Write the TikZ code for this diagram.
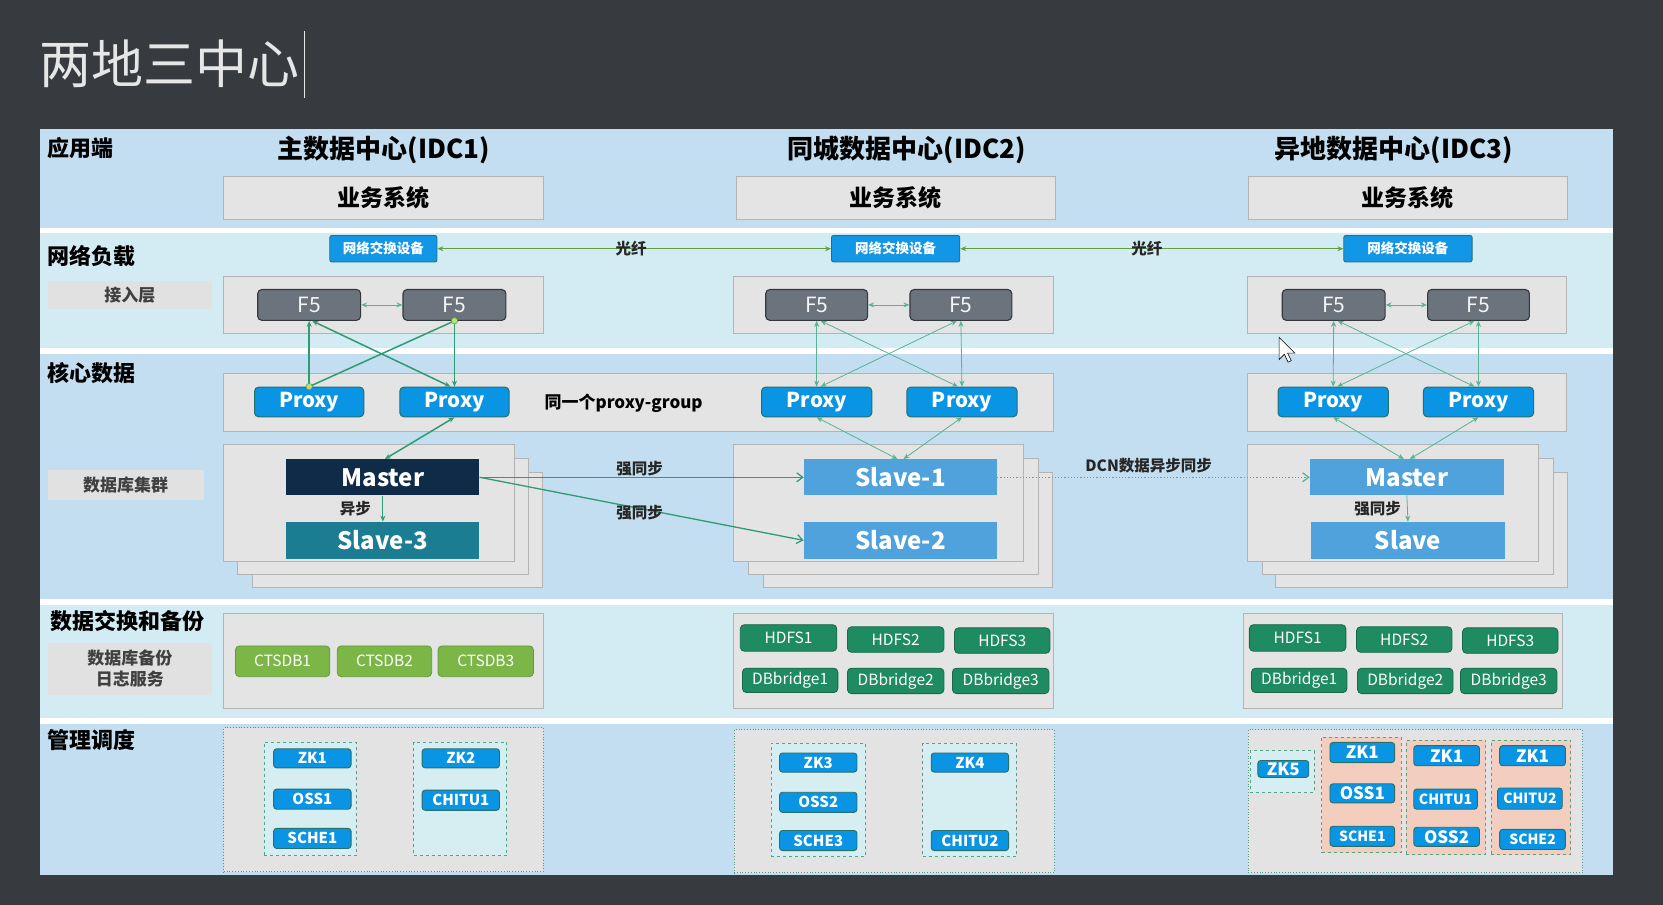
\documentclass[tikz,border=0pt]{standalone}
\usepackage{fontspec}
\setmainfont{Noto Sans CJK SC}
\usetikzlibrary{arrows.meta}
\definecolor{bgdark}{HTML}{373A3F}
\definecolor{bandA}{HTML}{C2DEF0}
\definecolor{bandB}{HTML}{D3EBF2}
\definecolor{boxfill}{HTML}{E4E4E4}
\definecolor{boxline}{HTML}{B4B4B4}
\definecolor{lblfill}{HTML}{E1E1E1}
\definecolor{lbltext}{HTML}{404040}
\definecolor{swblue}{HTML}{1296E6}
\definecolor{btnline}{HTML}{2A6F6A}
\definecolor{pxblue}{HTML}{0A94E4}
\definecolor{f5fill}{HTML}{6B747C}
\definecolor{f5line}{HTML}{33383D}
\definecolor{navy}{HTML}{0F2B48}
\definecolor{tealdb}{HTML}{1C7C91}
\definecolor{lblue}{HTML}{4FA2DB}
\definecolor{ctgreen}{HTML}{7BB646}
\definecolor{ctline}{HTML}{5E9C3A}
\definecolor{hdgreen}{HTML}{1F8B63}
\definecolor{hdline}{HTML}{17694A}
\definecolor{fibercol}{HTML}{62A044}
\definecolor{arrthick}{HTML}{2E9C72}
\definecolor{arrthin}{HTML}{58B392}
\definecolor{innerfill}{HTML}{D6EDF1}
\definecolor{dashcol}{HTML}{4DA58A}
\definecolor{salmon}{HTML}{F3CEBE}
\definecolor{mgfill}{HTML}{E3E3E3}
\definecolor{titlecol}{HTML}{E6E6E6}
\definecolor{dotfill}{HTML}{B8E07A}
\newcommand\fs[1]{\fontsize{#1}{#1}\selectfont}
\newcommand\bx[7]{\node[#1, minimum width={(#5-#3)*1.0606pt}, minimum height={(#6-#4)*1.0606pt}] (#2) at ({(#3+#5)/2},{(#4+#6)/2}) {#7};}
\tikzset{
  Tp/.tip={Stealth[length=6pt,width=5pt]},
  Bb/.tip={Straight Barb[length=6pt,width=9pt,line width=1.2pt]},
  graybox/.style={draw=boxline, fill=boxfill, line width=0.9pt, inner sep=0pt},
  lblbox/.style={fill=lblfill, inner sep=0pt, text=lbltext, font=\fs{17}\bfseries},
  hdr/.style={font=\fs{26}\bfseries, inner sep=0pt},
  sect/.style={font=\fs{22}\bfseries, anchor=west, inner sep=0pt},
  swbox/.style={draw=btnline, fill=swblue, rounded corners=2pt, text=white, font=\fs{13.5}\bfseries, inner sep=0pt, line width=0.8pt},
  f5box/.style={draw=f5line, fill=f5fill, rounded corners=4pt, text=white!92!gray, font=\fs{21}, inner sep=0pt, line width=1.1pt},
  pxbox/.style={draw=btnline, fill=pxblue, rounded corners=4pt, text=white, font=\fs{20.5}\bfseries, inner sep=0pt, line width=1pt},
  dbbox/.style={fill=#1, text=white, font=\fs{24}\bfseries, inner sep=0pt},
  ctbox/.style={draw=ctline, fill=ctgreen, rounded corners=4pt, text=white, font=\fs{15.5}, inner sep=0pt, line width=0.8pt},
  hdbox/.style={draw=hdline, fill=hdgreen, rounded corners=4pt, text=white, font=\fs{15.5}, inner sep=0pt, line width=0.8pt},
  btn/.style={draw=btnline, fill=pxblue, rounded corners=3pt, text=white, font=\fs{15}\bfseries, inner sep=0pt, line width=0.9pt},
  btnbig/.style={btn, font=\fs{17}\bfseries},
  btnsm/.style={btn, font=\fs{14}\bfseries},
  mgbox/.style={draw=dashcol!70!gray, dotted, fill=mgfill, line width=0.8pt, inner sep=0pt},
  innerbox/.style={draw=dashcol, dashed, fill=innerfill, line width=1pt, inner sep=0pt},
  salbox/.style={draw=dashcol, dashed, fill=salmon, line width=1pt, inner sep=0pt},
  lbl/.style={font=\fs{15.5}\bfseries, inner sep=0pt, text=black!85},
  fiber/.style={draw=fibercol, line width=1.4pt, Tp-Tp},
  thick1/.style={draw=arrthick, line width=1.5pt},
  thin2/.style={draw=arrthin, line width=0.8pt},
  sync/.style={draw=arrthick, line width=1.3pt, -Bb},
  dcn/.style={draw=arrthin!80!gray, line width=1.2pt, dotted, -Bb},
}
\begin{document}
\begin{tikzpicture}[x=1.0606pt, y=-1.0606pt]
\useasboundingbox (0,0) rectangle (1568,853);
\fill[bgdark] (0,0) rectangle (1568,853);
% title
\node[anchor=west, font=\fs{52}, text=titlecol, inner sep=0pt] (title) at (37,60) {两地三中心};
\draw[titlecol, line width=1pt] (287,29) -- (287,92);
% panel bands
\fill[white] (38,122) rectangle (1521,825);
\fill[bandA] (38,122) rectangle (1521,215);
\fill[bandB] (38,220) rectangle (1521,328);
\fill[bandA] (38,334) rectangle (1521,565);
\fill[bandB] (38,570) rectangle (1521,677);
\fill[bandA] (38,683) rectangle (1521,825);
% section labels
\node[sect] (sA) at (45,140) {应用端};
\node[sect] (sB) at (45,241) {网络负载};
\node[sect] (sC) at (45,352) {核心数据};
\node[sect] (sD) at (47,586) {数据交换和备份};
\node[sect] (sE) at (45,698) {管理调度};
\bx{lblbox}{lacc}{45}{265}{200}{291}{接入层}
\bx{lblbox}{ldb}{45}{443}{192}{471}{数据库集群}
\bx{lblbox, align=center, font=\fontsize{17}{21}\selectfont\bfseries}{lbk}{45}{606}{200}{655}{数据库备份\\日志服务}
% headers
\node[hdr] (h1) at (362,141) {主数据中心(IDC1)};
\node[hdr] (h2) at (855,141) {同城数据中心(IDC2)};
\node[hdr] (h3) at (1314,141) {异地数据中心(IDC3)};
\bx{graybox, font=\fs{23}\bfseries}{biz1}{211}{166}{512}{207}{业务系统}
\bx{graybox, font=\fs{23}\bfseries}{biz2}{694}{166}{995}{207}{业务系统}
\bx{graybox, font=\fs{23}\bfseries}{biz3}{1177}{166}{1478}{207}{业务系统}
% switches
\bx{swbox}{sw1}{311}{222}{412}{247}{网络交换设备}
\bx{swbox}{sw2}{784}{222}{905}{247}{网络交换设备}
\bx{swbox}{sw3}{1267}{222}{1388}{247}{网络交换设备}
\draw[fiber] (sw1) -- node[lbl, xshift=-3pt] (fb1) {光纤} (sw2);
\draw[fiber] (sw2) -- node[lbl, xshift=-5pt] (fb2) {光纤} (sw3);
% access layer
\bx{graybox}{acc1}{211}{261}{512}{314}{}
\bx{graybox}{acc2}{692}{261}{993}{314}{}
\bx{graybox}{acc3}{1176}{261}{1477}{314}{}
\bx{f5box}{f5a1}{243}{273}{340}{302}{F5}
\bx{f5box}{f5b1}{380}{273}{477}{302}{F5}
\bx{f5box}{f5a2}{722}{273}{818}{302}{F5}
\bx{f5box}{f5b2}{858}{273}{954}{302}{F5}
\bx{f5box}{f5a3}{1209}{273}{1306}{302}{F5}
\bx{f5box}{f5b3}{1346}{273}{1442}{302}{F5}
\draw[thin2, Tp-Tp] (f5a1) -- (f5b1);
\draw[thin2, Tp-Tp] (f5a2) -- (f5b2);
\draw[thin2, Tp-Tp] (f5a3) -- (f5b3);
% proxy row
\bx{graybox}{pg12}{211}{352}{993}{407}{}
\bx{graybox}{pg3}{1176}{352}{1477}{407}{}
\bx{pxbox}{pxa1}{240}{365}{343}{393}{Proxy}
\bx{pxbox}{pxb1}{377}{365}{480}{393}{Proxy}
\bx{pxbox}{pxa2}{718}{365}{822}{393}{Proxy}
\bx{pxbox}{pxb2}{855}{365}{959}{393}{Proxy}
\bx{pxbox}{pxa3}{1205}{365}{1309}{393}{Proxy}
\bx{pxbox}{pxb3}{1342}{365}{1446}{393}{Proxy}
\node[font=\fs{17}\bfseries, inner sep=0pt] (pgl) at (588,380) {同一个proxy-group};
% F5 - proxy IDC1
\draw[thick1, -Tp] (pxa1.north) -- (f5a1.south);
\draw[thick1, -Tp] (f5b1.south) -- (pxb1.north);
\draw[thick1, Tp-Tp] ([xshift=3pt]f5a1.south) -- ([xshift=-4pt]pxb1.north);
\draw[thick1] (pxa1.north) -- (f5b1.south);
\fill[dotfill, draw=ctline, line width=0.5pt] (pxa1.north) circle (3.2pt);
\fill[dotfill, draw=ctline, line width=0.5pt] (f5b1.south) circle (3.2pt);
% F5 - proxy IDC2/3
\draw[thin2, Tp-Tp] (f5a2.south) -- (pxa2.north);
\draw[thin2, Tp-Tp] (f5b2.south) -- (pxb2.north);
\draw[thin2, Tp-Tp] ([xshift=4pt]f5a2.south) -- ([xshift=-4pt]pxb2.north);
\draw[thin2, Tp-Tp] ([xshift=-4pt]f5b2.south) -- ([xshift=4pt]pxa2.north);
\draw[thin2, Tp-Tp] (f5a3.south) -- (pxa3.north);
\draw[thin2, Tp-Tp] (f5b3.south) -- (pxb3.north);
\draw[thin2, Tp-Tp] ([xshift=4pt]f5a3.south) -- ([xshift=-4pt]pxb3.north);
\draw[thin2, Tp-Tp] ([xshift=-4pt]f5b3.south) -- ([xshift=4pt]pxa3.north);
% DB stacks
\bx{graybox}{st1c}{238}{445}{511}{554}{}
\bx{graybox}{st1b}{224}{432}{498}{542}{}
\bx{graybox}{st1a}{211}{419}{485}{529}{}
\bx{graybox}{st2c}{720}{445}{992}{554}{}
\bx{graybox}{st2b}{706}{432}{979}{542}{}
\bx{graybox}{st2a}{692}{419}{965}{529}{}
\bx{graybox}{st3c}{1203}{445}{1478}{554}{}
\bx{graybox}{st3b}{1190}{432}{1465}{542}{}
\bx{graybox}{st3a}{1176}{419}{1451}{529}{}
\bx{dbbox=navy}{m1}{270}{433}{452}{467}{Master}
\bx{dbbox=tealdb}{s3}{270}{492}{452}{527}{Slave-3}
\bx{dbbox=lblue}{s1}{758}{433}{940}{467}{Slave-1}
\bx{dbbox=lblue}{s2}{758}{492}{940}{527}{Slave-2}
\bx{dbbox=lblue}{m3}{1235}{433}{1418}{467}{Master}
\bx{dbbox=lblue}{sl3}{1236}{492}{1419}{527}{Slave}
% proxy -> db
\draw[thick1, Tp-Tp] (pxb1.south) -- ([xshift=2pt]m1.north);
\draw[thin2, Tp-Tp] (pxa2.south) -- ([xshift=-3pt]s1.north);
\draw[thin2, Tp-Tp] (pxb2.south) -- ([xshift=3pt]s1.north);
\draw[thin2, Tp-Tp] (pxa3.south) -- ([xshift=-3pt]m3.north);
\draw[thin2, Tp-Tp] (pxb3.south) -- ([xshift=3pt]m3.north);
% master -> slave
\draw[thin2, draw=arrthick, line width=1pt, -Tp] (m1.south) -- (s3.north);
\node[lbl] (lyb) at (335,480) {异步};
\draw[thin2, -Tp] (m3.south) -- (sl3.north);
\node[lbl] (lqt3) at (1299,480) {强同步};
% sync
\draw[sync] (m1.east) -- (s1.west);
\node[lbl] (lq1) at (603,442) {强同步};
\draw[sync] (m1.east) -- (s2.west);
\node[lbl] (lq2) at (603,483) {强同步};
\draw[dcn] (s1.east) -- (m3.west);
\node[lbl] (ldcn) at (1083,439) {DCN数据异步同步};
% data exchange
\bx{graybox}{dx1}{211}{578}{512}{668}{}
\bx{ctbox}{ct1}{222}{609}{311}{638}{CTSDB1}
\bx{ctbox}{ct2}{318}{609}{407}{638}{CTSDB2}
\bx{ctbox}{ct3}{413}{609}{503}{638}{CTSDB3}
\bx{graybox}{dx2}{692}{578}{993}{668}{}
\bx{hdbox}{hd12}{698}{589}{789}{614}{HDFS1}
\bx{hdbox}{hd22}{799}{591}{890}{615}{HDFS2}
\bx{hdbox}{hd32}{900}{592}{990}{616}{HDFS3}
\bx{hdbox}{db12}{700}{630}{790}{653}{DBbridge1}
\bx{hdbox}{db22}{799}{630}{890}{654}{DBbridge2}
\bx{hdbox}{db32}{898}{630}{989}{654}{DBbridge3}
\bx{graybox}{dx3}{1172}{578}{1473}{668}{}
\bx{hdbox}{hd13}{1178}{589}{1269}{614}{HDFS1}
\bx{hdbox}{hd23}{1279}{591}{1369}{615}{HDFS2}
\bx{hdbox}{hd33}{1379}{592}{1469}{616}{HDFS3}
\bx{hdbox}{db13}{1180}{630}{1270}{653}{DBbridge1}
\bx{hdbox}{db23}{1280}{630}{1370}{654}{DBbridge2}
\bx{hdbox}{db33}{1377}{630}{1468}{654}{DBbridge3}
% management IDC1
\bx{mgbox}{mg1}{211}{686}{512}{822}{}
\bx{innerbox}{g1a}{249}{700}{336}{807}{}
\bx{innerbox}{g1b}{390}{700}{478}{807}{}
\bx{btn}{zk1}{258}{706}{331}{724}{ZK1}
\bx{btn}{oss1}{258}{744}{331}{763}{OSS1}
\bx{btn}{sche1}{258}{781}{331}{800}{SCHE1}
\bx{btn}{zk2}{398}{706}{471}{724}{ZK2}
\bx{btn}{chitu1}{398}{745}{471}{764}{CHITU1}
% management IDC2
\bx{mgbox}{mg2}{692}{688}{994}{823}{}
\bx{innerbox}{g2a}{727}{701}{816}{808}{}
\bx{innerbox}{g2b}{870}{701}{958}{808}{}
\bx{btn}{zk3}{735}{710}{808}{728}{ZK3}
\bx{btn}{oss2}{735}{747}{808}{766}{OSS2}
\bx{btn}{sche3}{735}{783}{808}{802}{SCHE3}
\bx{btn}{zk4}{878}{710}{951}{728}{ZK4}
\bx{btn}{chitu2}{878}{783}{951}{802}{CHITU2}
% management IDC3
\bx{mgbox}{mg3}{1177}{688}{1492}{823}{}
\bx{innerbox}{g3z}{1179}{708}{1239}{747}{}
\bx{btnbig}{zk5}{1186}{717}{1234}{733}{ZK5}
\bx{salbox}{g3a}{1246}{695}{1321}{804}{}
\bx{salbox}{g3b}{1326}{698}{1401}{806}{}
\bx{salbox}{g3c}{1406}{698}{1481}{806}{}
\bx{btnbig}{zk1a}{1254}{700}{1315}{719}{ZK1}
\bx{btnbig}{oss1a}{1254}{739}{1315}{757}{OSS1}
\bx{btnsm}{sche1a}{1254}{779}{1315}{798}{SCHE1}
\bx{btnbig}{zk1b}{1333}{703}{1395}{722}{ZK1}
\bx{btnsm}{chitu1b}{1333}{744}{1393}{763}{CHITU1}
\bx{btnbig}{oss2b}{1333}{780}{1395}{798}{OSS2}
\bx{btnbig}{zk1c}{1414}{703}{1476}{722}{ZK1}
\bx{btnsm}{chitu2c}{1412}{743}{1473}{763}{CHITU2}
\bx{btnsm}{sche2c}{1414}{782}{1476}{801}{SCHE2}
% mouse pointer
\filldraw[fill=white, draw=black, line width=0.6pt] (1206,318) -- ++(0,21) -- ++(5,-5) -- ++(3.5,7.5) -- ++(3,-1.5) -- ++(-3.5,-7) -- ++(7,0) -- cycle;
\end{tikzpicture}
\end{document}
